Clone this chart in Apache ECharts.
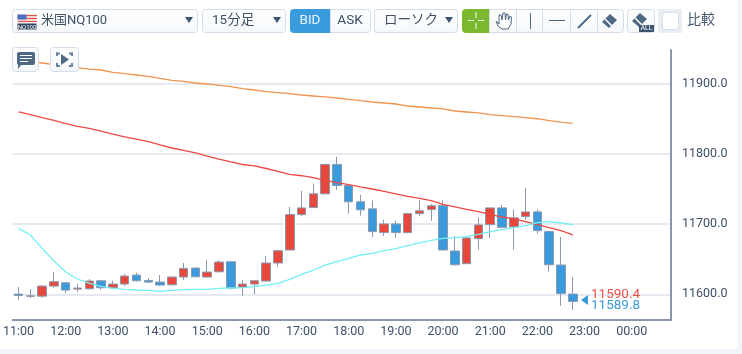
<!DOCTYPE html>
<html>
<head>
<meta charset="utf-8">
<style>
  html, body { margin: 0; padding: 0; background: #fff; }
  #main { width: 742px; height: 354px; }
</style>
<script src="https://cdn.jsdelivr.net/npm/echarts@6/dist/echarts.min.js"></script>
</head>
<body>
<div id="main"></div>
<script>
var opens = [11600.3, 11597.1, 11597.4, 11611.7, 11616.4, 11607.4, 11607.9, 11619.3, 11609.3, 11614.6, 11627.4, 11619.7,
  11617.4, 11613.6, 11624.6, 11637.4, 11624.6, 11632.1, 11646.4, 11610.3, 11614.6, 11618.9, 11644.6, 11663.1,
  11713.6, 11723.6, 11743.1, 11785, 11755, 11731.7, 11721.7, 11687.9, 11700.3, 11687.9, 11715, 11720.7,
  11726.4, 11661.7, 11643.6, 11679.3, 11699.3, 11723.1, 11696, 11710.7, 11717.4, 11689.3, 11641.7, 11600.3];
var closes = [11598.3, 11597.9, 11611.7, 11617.9, 11606, 11608.9, 11618.9, 11609.3, 11614.6, 11626, 11619.3, 11617.4,
  11613.1, 11624.6, 11636.9, 11625, 11631.7, 11646, 11608.9, 11614.6, 11619.3, 11644.6, 11662.1, 11713.6,
  11723.1, 11743.1, 11785, 11755, 11731.7, 11720.3, 11689.3, 11700.3, 11687.9, 11715, 11718.9, 11726,
  11663.1, 11642.1, 11680.3, 11698.9, 11723.1, 11695.4, 11708.9, 11717.4, 11690.7, 11642.1, 11601.1, 11589.8];
var lows = [11592.1, 11594.6, 11595, 11609.7, 11601.7, 11603.6, 11606.4, 11606.4, 11608.3, 11611.7, 11618.3, 11616,
  11612.1, 11612.6, 11620.3, 11624, 11624, 11631.1, 11606.4, 11597.9, 11600.3, 11617.9, 11639.3, 11663.1,
  11711.1, 11722.6, 11743.1, 11748.9, 11715, 11712.1, 11681.7, 11683.1, 11680.7, 11686.9, 11712.1, 11704.6,
  11663.1, 11640.7, 11643.1, 11663.6, 11680.3, 11695.4, 11663.6, 11706.4, 11686.4, 11632.1, 11583.6, 11577.9];
var highs = [11610.3, 11607.4, 11613.1, 11632.1, 11617.4, 11615, 11621.7, 11620.3, 11619.3, 11629.3, 11630.7, 11623.1,
  11627.4, 11625.4, 11644.6, 11638.3, 11648.9, 11648.3, 11646.4, 11620, 11619.7, 11654.6, 11663.6, 11724.6,
  11747.4, 11757.9, 11785, 11796, 11755, 11741.7, 11733.6, 11706, 11705, 11716, 11734, 11728.9,
  11733.6, 11682.6, 11682.6, 11709.3, 11723.1, 11727.4, 11720.7, 11751.7, 11720.7, 11690.7, 11681.7, 11624.6];

var maOrange = [11933.8, 11931.9, 11929.5, 11927.1, 11925.2, 11922.8, 11920.9, 11919.5, 11916.2, 11914.2, 11912.4, 11910.5,
  11907.7, 11904.8, 11903.4, 11901, 11899.6, 11897.7, 11895.7, 11892.9, 11891, 11888.6, 11887.2, 11885.8,
  11883.9, 11882.5, 11881.1, 11879.6, 11877.8, 11875.8, 11873.9, 11872.5, 11871.1, 11868.2, 11866.8, 11865.4,
  11864, 11861.1, 11859.7, 11858.3, 11855.8, 11854.4, 11853, 11851.6, 11850.1, 11847.3, 11845.4, 11843.6];
var maRed = [11859.7, 11855.8, 11851.6, 11847.9, 11843, 11839.3, 11836.5, 11832.6, 11828.3, 11824.1, 11821.2, 11817.4,
  11812.7, 11808.4, 11805.1, 11801.3, 11797, 11792.7, 11788.5, 11784.9, 11782.8, 11779.2, 11775.2, 11770.9,
  11768.9, 11766.1, 11762.4, 11759, 11756.1, 11752.9, 11750, 11746.7, 11742.9, 11739.6, 11736.8, 11733.3,
  11728.2, 11724.4, 11721.1, 11717.7, 11714, 11710.1, 11707.3, 11703.4, 11699.1, 11694.9, 11690.6, 11684.5];
var maCyan = [11694, 11684.5, 11665.5, 11647.4, 11631.8, 11621.8, 11615.7, 11611.4, 11608.5, 11607.1, 11606.1, 11605.7,
  11604.3, 11605.7, 11606.6, 11607.1, 11607.1, 11608.5, 11609, 11609.4, 11610.8, 11613.2, 11615.7, 11621.4,
  11628.5, 11634.6, 11641.7, 11646.4, 11651.3, 11656, 11658.4, 11662.1, 11665, 11669.2, 11673.1, 11676.9,
  11679.8, 11680.6, 11682.1, 11685.5, 11689.2, 11692, 11694.9, 11697.7, 11702, 11703.4, 11701.6, 11699.1];

var priceTicks = [11600, 11700, 11800, 11900];
var startHour = 11;
var slotCount = 56; // 15分足, 右側の余白ぶんも含む

var categories = [];
for (var i = 0; i < slotCount; i++) {
  var h = (startHour + Math.floor(i / 4)) % 24;
  var m = (i % 4) * 15;
  categories.push((h < 10 ? '0' : '') + h + ':' + (m === 0 ? '00' : m));
}

var candles = opens.map(function (o, i) {
  return [o, closes[i], lows[i], highs[i]];
});

var FONT = 'Roboto, "Noto Sans CJK JP", sans-serif';
var TEXT_COLOR = '#3f5068';
var ICON_COLOR = '#4f6884';
var BORDER = '#d3deea';
var BTN_FILL = {
  type: 'linear', x: 0, y: 0, x2: 0, y2: 1,
  colorStops: [{ offset: 0, color: '#ffffff' }, { offset: 1, color: '#f4f7fa' }]
};

function box(x, y, w, h, r, fill, stroke) {
  return {
    type: 'rect',
    shape: { x: x + 0.5, y: y + 0.5, width: w - 1, height: h - 1, r: r === undefined ? 3 : r },
    style: { fill: fill || BTN_FILL, stroke: stroke === undefined ? BORDER : stroke, lineWidth: 1 },
    z: 10
  };
}
function label(x, y, text, size, color, align) {
  return {
    type: 'text', x: x, y: y,
    style: {
      text: text, fill: color || TEXT_COLOR, font: (size || 13) + 'px ' + FONT,
      align: align || 'left', verticalAlign: 'middle'
    },
    z: 12
  };
}
function tri(points, color) {
  return { type: 'polygon', shape: { points: points }, style: { fill: color || ICON_COLOR }, z: 12 };
}
function seg(x1, y1, x2, y2, color, width) {
  return {
    type: 'line', shape: { x1: x1, y1: y1, x2: x2, y2: y2 },
    style: { stroke: color || ICON_COLOR, lineWidth: width || 1 }, z: 12
  };
}
function caret(cx, cy) {
  return tri([[cx - 4, cy - 3], [cx + 4, cy - 3], [cx, cy + 3]], '#3d5470');
}
function eraser(cx, cy) {
  return tri([[cx - 8, cy + 1], [cx, cy - 7], [cx + 7, cy - 1], [cx - 1, cy + 7]], ICON_COLOR);
}
function eraserStripe(cx, cy) {
  return seg(cx - 5, cy - 2, cx + 2, cy + 5, '#ffffff', 1.5);
}

var chrome = [
  // 右と下の余白帯
  { type: 'rect', shape: { x: 738, y: 0, width: 4, height: 354 }, style: { fill: '#f1f4f8' }, z: 1 },
  { type: 'rect', shape: { x: 0, y: 349, width: 742, height: 5 }, style: { fill: '#f1f4f8' }, z: 1 },
  // グリッドの右はみ出しを隠す
  { type: 'rect', shape: { x: 672, y: 48, width: 3, height: 274 }, style: { fill: '#ffffff' }, z: 9 },

  box(12, 9, 186, 24),
  { type: 'rect', shape: { x: 17.5, y: 14.5, width: 19, height: 8 }, style: { fill: '#f3d5d2' }, z: 11 },
  { type: 'rect', shape: { x: 17.5, y: 14.5, width: 9, height: 5 }, style: { fill: '#4a6fc4' }, z: 12 },
  seg(26, 15.5, 37, 15.5, '#e8524a'), seg(26, 18.5, 37, 18.5, '#e8524a'), seg(18, 21.5, 37, 21.5, '#e8524a'),
  { type: 'rect', shape: { x: 17.5, y: 23.5, width: 19, height: 6 }, style: { fill: '#2f4560' }, z: 11 },
  label(27, 27, 'NQ100', 6, '#ffffff', 'center'),
  label(41, 20.5, '米国NQ100', 13),
  caret(189, 20),

  box(202, 9, 84, 24),
  label(212, 21, '15分足', 13.5),
  caret(277, 20),

  box(290, 9, 41, 24, [3, 0, 0, 3], '#3a9bdc', '#3a9bdc'),
  label(310, 21, 'BID', 13.5, '#e8f4fc', 'center'),
  box(330, 9, 41, 24, [0, 3, 3, 0]),
  label(350, 21, 'ASK', 13.5, '#3f5068', 'center'),

  box(374, 9, 84, 24),
  label(384, 21, 'ローソク', 13.5),
  caret(449, 20),

  box(462, 9, 28, 24, [3, 0, 0, 3], '#7ab82e', '#7ab82e'),
  seg(468, 20.5, 474, 20.5, '#ffffff'), seg(478, 20.5, 484, 20.5, '#ffffff'),
  seg(476, 12, 476, 18, '#ffffff'), seg(476, 23, 476, 29, '#ffffff'),
  box(489, 9, 28, 24, 0),
  {
    type: 'polygon', z: 12,
    shape: { points: [[496, 21], [499, 24], [499, 15], [501, 15], [502, 20], [503, 13], [505, 13], [505.5, 20], [506.500, 14], [508, 14], [508.5, 20], [510, 16], [511.5, 17], [511, 24], [508, 29], [502, 29], [498, 26]] },
    style: { fill: '#ffffff', stroke: ICON_COLOR, lineWidth: 1 }
  },
  box(516, 9, 27, 24, 0),
  seg(530.5, 13, 530.5, 29),
  box(542, 9, 29, 24, 0),
  seg(549, 20.5, 565, 20.5),
  box(570, 9, 28, 24, 0),
  seg(578, 28, 591, 15, ICON_COLOR, 2),
  box(597, 9, 27, 24, [0, 3, 3, 0]),
  eraser(610, 21),
  eraserStripe(610, 21),

  box(627, 9, 28, 24),
  eraser(640, 20),
  eraserStripe(640, 20),
  { type: 'rect', shape: { x: 639, y: 25, width: 15, height: 7 }, style: { fill: '#3d5470' }, z: 12 },
  label(646.5, 28.5, 'ALL', 7, '#ffffff', 'center'),

  { type: 'rect', shape: { x: 658, y: 9, width: 24, height: 24 }, style: { fill: '#e9eef4' }, z: 10 },
  box(662, 12, 17, 18, 2, '#ffffff', '#d3deea'),
  label(687, 20.5, '比較', 14, '#44566e'),

  box(12, 47, 27, 25),
  { type: 'rect', shape: { x: 17, y: 52, width: 18, height: 13, r: 2 }, style: { fill: ICON_COLOR }, z: 12 },
  tri([[18, 64], [22, 64], [18, 69]]),
  seg(20, 55.5, 32, 55.5, '#ffffff'), seg(20, 58.5, 32, 58.5, '#ffffff'), seg(20, 61.5, 28, 61.5, '#ffffff'),

  box(50, 47, 29, 25),
  tri([[61, 54], [69, 59.500], [61, 65]]),
  seg(57, 56, 57, 52.5, '#6b82a0', 2), seg(56, 53.5, 60, 53.5, '#6b82a0', 2),
  seg(72, 56, 72, 52.5, '#6b82a0', 2), seg(69, 53.5, 73, 53.5, '#6b82a0', 2),
  seg(57, 63, 57, 67, '#6b82a0', 2), seg(56, 66, 60, 66, '#6b82a0', 2),
  seg(72, 63, 72, 67, '#6b82a0', 2), seg(69, 66, 73, 66, '#6b82a0', 2),

  // 現在値
  tri([[581, 300], [588, 295], [588, 305]], '#3a9bdc'),
  label(591, 294.5, '11590.4', 13.5, '#f0504a'),
  label(591, 305.5, '11589.8', 13.5, '#3a9bdc')
];

var myChart = echarts.init(document.getElementById('main'), null, { renderer: 'canvas' });

function lineSeries(name, data, color) {
  return {
    name: name,
    type: 'line',
    data: data,
    showSymbol: false,
    symbol: 'none',
    smooth: false,
    z: 5,
    silent: true,
    lineStyle: { color: color, width: 1.3 }
  };
}

var option = {
  animation: false,
  backgroundColor: '#ffffff',
  textStyle: { fontFamily: FONT },
  grid: { left: 12, top: 50, width: 661, height: 270, containLabel: false },
  xAxis: {
    type: 'category',
    data: categories,
    boundaryGap: true,
    axisLine: { lineStyle: { color: '#8896ab', width: 2 } },
    axisTick: { show: false },
    splitLine: { show: false },
    axisLabel: {
      interval: 3,
      color: TEXT_COLOR,
      fontSize: 12.5,
      fontFamily: FONT,
      margin: 6,
      hideOverlap: false
    }
  },
  yAxis: {
    type: 'value',
    position: 'right',
    offset: -2,
    min: 11563.4,
    max: 11948,
    axisLine: { show: true, lineStyle: { color: '#8896ab', width: 2 } },
    axisTick: { show: false, customValues: priceTicks },
    splitLine: { show: true, lineStyle: { color: '#e6eaf0', width: 2 } },
    axisLabel: {
      customValues: priceTicks,
      color: TEXT_COLOR,
      fontSize: 12.5,
      fontFamily: FONT,
      margin: 11,
      padding: [6, 0, 0, 0],
      formatter: function (v) { return v.toFixed(1); }
    }
  },
  series: [
    {
      name: '米国NQ100',
      type: 'candlestick',
      data: candles,
      barWidth: 9,
      z: 3,
      itemStyle: {
        color: '#e8473c',
        color0: '#3a9bdc',
        borderColor: '#8a99b0',
        borderColor0: '#8a99b0',
        borderWidth: 1
      }
    },
    lineSeries('MA1', maOrange, '#f0944f'),
    lineSeries('MA2', maRed, '#ee4a42'),
    lineSeries('MA3', maCyan, '#72f0f4')
  ],
  graphic: { elements: chrome }
};

option && myChart.setOption(option);
</script>
</body>
</html>
